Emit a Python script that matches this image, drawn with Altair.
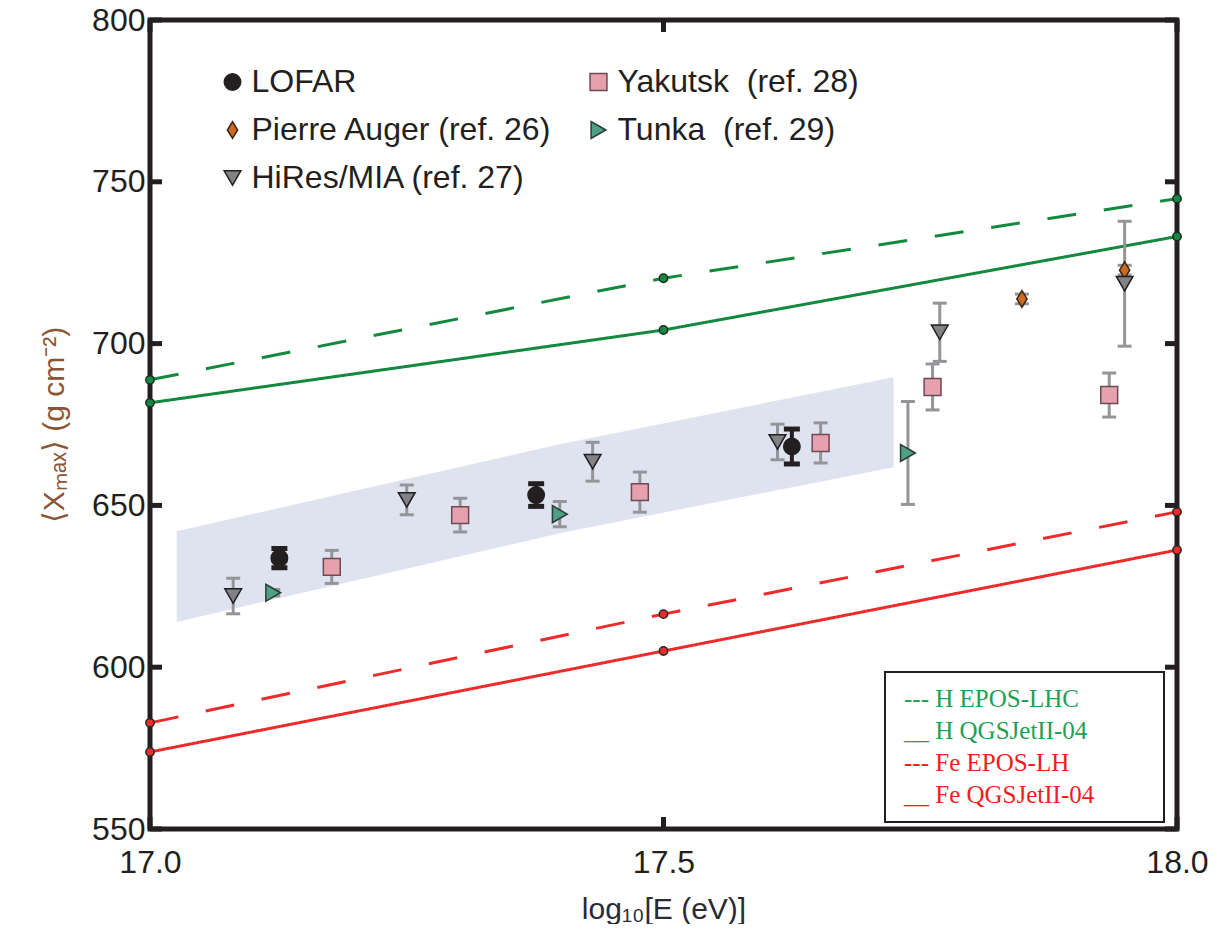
import altair as alt
import pandas as pd

# ---------------- data ----------------
x_ticks = [17.0, 17.5, 18.0]
y_ticks = [550, 600, 650, 700, 750, 800]

model_x = [17.0, 17.5, 18.0]
h_epos_lhc = [688.8, 720.2, 744.8]
h_qgsjet = [681.7, 704.2, 733.1]
fe_epos_lhc = [582.8, 616.4, 648.0]
fe_qgsjet = [573.8, 605.0, 636.2]
model_labels = ["--- H EPOS-LHC", "__ H QGSJetII-04", "--- Fe EPOS-LH", "__ Fe QGSJetII-04"]

band_x = [17.026, 17.40, 17.724]
band_top = [642.0, 669.0, 689.6]
band_bottom = [614.0, 641.5, 661.8]

lofar_x = [17.126, 17.376, 17.625]
lofar_y = [633.7, 653.2, 668.2]
lofar_err = [3.0, 3.5, 5.4]

auger_x = [17.849, 17.949]
auger_y = [713.8, 722.7]
auger_err = [1.5, 1.5]

hires_x = [17.081, 17.250, 17.431, 17.611, 17.769, 17.949]
hires_y = [622.0, 651.7, 663.5, 669.6, 703.5, 718.5]
hires_err = [5.5, 4.6, 6.0, 5.5, 9.0, 19.3]

yakutsk_x = [17.177, 17.302, 17.477, 17.653, 17.762, 17.934]
yakutsk_y = [631.0, 647.0, 654.1, 669.3, 686.6, 684.1]
yakutsk_err = [5.1, 5.2, 6.2, 6.2, 7.1, 6.8]

tunka_x = [17.120, 17.399, 17.738]
tunka_y = [623.0, 647.3, 666.2]
tunka_err = [1.0, 3.9, 15.9]

# legend order (column-major, two columns of three rows)
exp_labels = ["LOFAR", "Pierre Auger (ref. 26)", "HiRes/MIA (ref. 27)",
              "Yakutsk\u00a0 (ref. 28)", "Tunka\u00a0 (ref. 29)"]

# ---------------- styling ----------------
SANS = "Liberation Sans, Arial, Helvetica, sans-serif"
SERIF = "Liberation Serif, Times New Roman, serif"
FRAME = "#231f20"
GREEN = "#12893e"
RED = "#ee2b2b"
ERRGRAY = "#939598"
W, H = 1027, 809
TICK = 12

tall_diamond = "M0,-1L0.62,0L0,1L-0.62,0Z"
exp_shapes = ["circle", tall_diamond, "triangle-down", "square", "triangle-right"]
exp_fill = ["#231f20", "#cc6a22", "#808285", "#e6a0ae", "#4f9e86"]
exp_stroke = ["#231f20", "#3b2314", "#231f20", "#6b4a54", "#2b3a35"]
exp_size = [270, 290, 115, 145, 115]

# ---------------- tables ----------------
mdf = pd.DataFrame({
    "model": [m for m in model_labels for _ in model_x],
    "x": model_x * 4,
    "y": h_epos_lhc + h_qgsjet + fe_epos_lhc + fe_qgsjet,
})

band = pd.DataFrame({"x": band_x, "y": band_top, "y2": band_bottom})

rows = []
for name, xs_, ys_, es_ in [
    (exp_labels[0], lofar_x, lofar_y, lofar_err),
    (exp_labels[1], auger_x, auger_y, auger_err),
    (exp_labels[2], hires_x, hires_y, hires_err),
    (exp_labels[3], yakutsk_x, yakutsk_y, yakutsk_err),
    (exp_labels[4], tunka_x, tunka_y, tunka_err),
]:
    for xv, yv, ev in zip(xs_, ys_, es_):
        rows.append({"exp": name, "x": xv, "y": yv, "lo": yv - ev, "hi": yv + ev})
edf = pd.DataFrame(rows)

ytdf = pd.DataFrame({"y": y_ticks})
xtdf = pd.DataFrame({"x": x_ticks})

# ---------------- scales / axes ----------------
xs = alt.Scale(domain=[17.0, 18.0], nice=False, zero=False)
ys = alt.Scale(domain=[550, 800], nice=False, zero=False)

x_axis = alt.Axis(values=x_ticks, format=".1f", labelFlush=False, labelPadding=18,
                  title="log₁₀[E (eV)]", titleFontSize=30, titlePadding=16,
                  titleColor="#2a2a35")
y_axis = alt.Axis(values=y_ticks, format="d", labelPadding=5,
                  title="⟨Xₘₐₓ⟩ (g cm⁻²)", titleFontSize=30, titlePadding=22,
                  titleColor="#8a5536")

band_layer = alt.Chart(band).mark_area(color="#dfe3f0", opacity=1).encode(
    x=alt.X("x:Q", scale=xs, axis=x_axis),
    y=alt.Y("y:Q", scale=ys, axis=y_axis),
    y2="y2:Q",
)

model_leg = alt.Legend(
    title="MM", titleOrient="right", titleColor="white", titleFontSize=25,
    titleFont=SERIF, titlePadding=8,
    orient="none", legendX=735, legendY=652, padding=14, rowPadding=6,
    strokeColor=FRAME, fillColor="white",
    labelFont=SERIF, labelFontSize=25, labelLimit=500,
    labelColor=alt.ExprRef(expr="indexof(datum.label, ' H ') >= 0 ? '#1fa055' : '#f21c1c'"),
    symbolType="circle", symbolOpacity=0, symbolSize=1, symbolStrokeWidth=0,
    labelOffset=alt.ExprRef(expr="-20"),
)
model_color = alt.Color("model:N",
                        scale=alt.Scale(domain=model_labels, range=[GREEN, GREEN, RED, RED]),
                        legend=model_leg)

lines = alt.Chart(mdf).mark_line(strokeWidth=3).encode(
    x="x:Q", y="y:Q", color=model_color,
    strokeDash=alt.StrokeDash("model:N",
                              scale=alt.Scale(domain=model_labels,
                                              range=[[29, 28], [1, 0], [29, 28], [1, 0]]),
                              legend=None),
)

dots = alt.Chart(mdf).mark_point(filled=True, size=70, opacity=1, stroke="#1f2a24",
                                 strokeWidth=1.5).encode(x="x:Q", y="y:Q", color=model_color)

not_lofar = alt.datum.exp != "LOFAR"
is_lofar = alt.datum.exp == "LOFAR"

err_gray = alt.Chart(edf).transform_filter(not_lofar).mark_rule(
    color=ERRGRAY, strokeWidth=3).encode(x="x:Q", y="lo:Q", y2="hi:Q")
cap_lo_gray = alt.Chart(edf).transform_filter(not_lofar).mark_tick(
    color=ERRGRAY, orient="horizontal", size=14, thickness=3, opacity=1).encode(x="x:Q", y="lo:Q")
cap_hi_gray = alt.Chart(edf).transform_filter(not_lofar).mark_tick(
    color=ERRGRAY, orient="horizontal", size=14, thickness=3, opacity=1).encode(x="x:Q", y="hi:Q")

err_black = alt.Chart(edf).transform_filter(is_lofar).mark_rule(
    color=FRAME, strokeWidth=4).encode(x="x:Q", y="lo:Q", y2="hi:Q")
cap_lo_black = alt.Chart(edf).transform_filter(is_lofar).mark_tick(
    color=FRAME, orient="horizontal", size=16, thickness=5, opacity=1).encode(x="x:Q", y="lo:Q")
cap_hi_black = alt.Chart(edf).transform_filter(is_lofar).mark_tick(
    color=FRAME, orient="horizontal", size=16, thickness=5, opacity=1).encode(x="x:Q", y="hi:Q")

exp_leg_kw = dict(title=None, orient="none", legendX=66.5, legendY=46, columns=2,
                  columnPadding=30, rowPadding=16, labelFont=SANS, labelFontSize=32,
                  labelColor=FRAME, labelOffset=3, labelLimit=600, symbolStrokeWidth=1.5)

pts = alt.Chart(edf).mark_point(filled=True, opacity=1, strokeWidth=1.5).encode(
    x="x:Q", y="y:Q",
    shape=alt.Shape("exp:N", scale=alt.Scale(domain=exp_labels, range=exp_shapes),
                    legend=alt.Legend(**exp_leg_kw)),
    fill=alt.Fill("exp:N", scale=alt.Scale(domain=exp_labels, range=exp_fill),
                  legend=alt.Legend(**exp_leg_kw)),
    stroke=alt.Stroke("exp:N", scale=alt.Scale(domain=exp_labels, range=exp_stroke),
                      legend=alt.Legend(**exp_leg_kw)),
    size=alt.Size("exp:N", scale=alt.Scale(domain=exp_labels, range=exp_size),
                  legend=alt.Legend(**exp_leg_kw)),
)

# inward ticks on all four sides
t_left = alt.Chart(ytdf).mark_rule(color=FRAME, strokeWidth=5).encode(
    y="y:Q", x=alt.value(0), x2=alt.value(TICK))
t_right = alt.Chart(ytdf).mark_rule(color=FRAME, strokeWidth=5).encode(
    y="y:Q", x=alt.value(W), x2=alt.value(W - TICK))
t_top = alt.Chart(xtdf).mark_rule(color=FRAME, strokeWidth=5).encode(
    x="x:Q", y=alt.value(0), y2=alt.value(TICK))
t_bottom = alt.Chart(xtdf).mark_rule(color=FRAME, strokeWidth=5).encode(
    x="x:Q", y=alt.value(H), y2=alt.value(H - TICK))

chart = alt.layer(
    band_layer, lines, dots,
    err_gray, cap_lo_gray, cap_hi_gray,
    err_black, cap_lo_black, cap_hi_black,
    pts, t_left, t_right, t_top, t_bottom,
).properties(
    width=W, height=H,
    padding={"left": 142, "top": 12, "right": 40, "bottom": 95},
    autosize=alt.AutoSizeParams(type="none"),
).configure_view(
    stroke=FRAME, strokeWidth=5,
).configure_axis(
    grid=False, ticks=False, domain=False,
    labelFont=SANS, labelFontSize=32, labelColor=FRAME,
    titleFont=SANS, titleFontWeight="normal",
).configure_legend(
    strokeWidth=2,
)

chart.save("out.html", embed_options={"renderer": "svg", "actions": False})
